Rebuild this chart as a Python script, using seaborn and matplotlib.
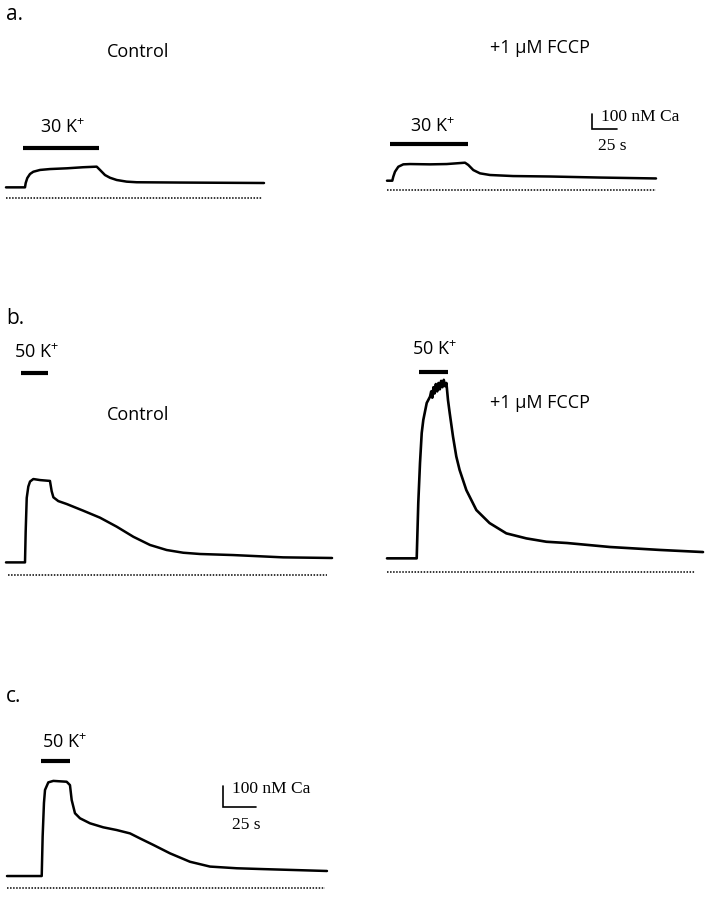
import matplotlib
matplotlib.use("Agg")
import matplotlib.pyplot as plt
import seaborn as sns
import pandas as pd

sns.set_theme(style="white")
plt.rcParams['font.family'] = ['Open Sans', 'DejaVu Sans']
plt.rcParams['mathtext.fontset'] = 'custom'
plt.rcParams['mathtext.rm'] = 'Open Sans'
plt.rcParams['mathtext.it'] = 'Open Sans'
plt.rcParams['mathtext.bf'] = 'Open Sans'
plt.rcParams['mathtext.default'] = 'regular'

# ---------------- data (time in s, [Ca] in nM above zero line) ----------------
a_ctrl_t = [0, 19, 19.7, 21.3, 24, 27.3, 34, 44, 61, 77, 90.7, 94, 99, 104,
            110.7, 120.7, 130.7, 174, 258]
a_ctrl_ca = [71, 71, 100, 133, 160, 175, 187, 193, 198, 205, 209, 187, 153, 135,
             120, 109, 105, 103, 100]
a_ctrl_stim = [17, 93]
a_ctrl_zero = [0, 256]

a_fccp_t = [0, 5.3, 6.3, 8, 11.3, 16.3, 23, 43, 59.7, 78, 81.3, 86.3, 93, 103,
            126, 163, 213, 269]
a_fccp_ca = [62, 62, 89, 122, 155, 171, 173, 171, 173, 182, 167, 133, 111, 100,
             93, 90, 83, 77]
a_fccp_stim = [3, 81]
a_fccp_zero = [0, 269]

b_ctrl_t = [0, 14.4, 14.9, 15.7, 16.9, 18.2, 20.7, 25.8, 33.3, 34.6, 35.9, 39.6,
            46, 58.6, 71.2, 83.9, 96.5, 109.1, 121.7, 134.3, 147, 172, 210, 247]
b_ctrl_ca = [60, 60, 206, 367, 421, 445, 457, 452, 448, 399, 370, 352,
             338, 306, 273, 230, 182, 143, 119, 106, 100, 95, 84, 81]
b_ctrl_stim = [11.4, 31.8]
b_ctrl_zero = [1.5, 243]

b_fccp_t = [0, 22.5, 23.7, 25, 26.3, 27.5, 30.1, 32.6, 33.5, 34.3, 35.2, 36, 37,
            38, 39, 40, 41, 42, 43, 44, 45, 46.2, 47.5, 50, 52.5, 55, 60.1,
            67.7, 77.7, 90.4, 105.6, 120.8, 136.4, 169, 206.8, 239.4]
b_fccp_ca = [65, 65, 329, 519, 662, 724, 805, 835, 860, 830, 880, 850, 895,
             860, 900, 870, 910, 880, 915, 885, 900, 819, 757, 645, 550, 486, 390,
             295, 233, 184, 160, 144, 138, 119, 105, 95]
b_fccp_stim = [24.2, 46.2]
b_fccp_zero = [0, 233]

c_t = [0, 26.3, 27.0, 28.0, 28.8, 31.3, 35.1, 45.2, 47.7, 49, 51.5, 55.3, 62.9,
       72.9, 83.1, 93.2, 100.8, 110.9, 123.5, 138.6, 153.8, 174, 194, 242.4]
c_ca = [57, 57, 245, 405, 467, 503, 510, 506, 490, 419, 356, 332, 308,
        289, 276, 260, 236, 205, 165, 125, 102, 94, 90, 81]
c_stim = [25.8, 47.7]
c_zero = [0, 241]

scale_ca = 100   # nM
scale_t = 25     # s

W, H = 708, 899
fig = plt.figure(figsize=(W / 100, H / 100), dpi=100)


def panel_axes(x0, y0, sx, sy):
    """Full-figure transparent axes: time 0 at pixel x0, Ca 0 at pixel y0."""
    ax = fig.add_axes([0, 0, 1, 1])
    ax.set_xlim((0 - x0) / sx, (W - x0) / sx)
    ax.set_ylim((y0 - H) / sy, y0 / sy)
    ax.axis('off')
    ax.patch.set_alpha(0)
    return ax


def draw_trace(ax, t, ca, stim, zero, bar_level, lw=1.8):
    df = pd.DataFrame({'t': t, 'ca': ca})
    sns.lineplot(data=df, x='t', y='ca', ax=ax, color='black', lw=lw,
                 estimator=None, sort=False)
    ax.hlines(0, zero[0], zero[1], colors='black', lw=1.1,
              linestyles=(0, (1, 1)))
    ax.hlines(bar_level, stim[0], stim[1], colors='black', lw=3.0)


def scale_bar(ax, t0, ca0):
    ax.plot([t0, t0, t0 + scale_t], [ca0 + scale_ca, ca0, ca0],
            color='black', lw=1.2, solid_joinstyle='miter')


def txt(x, y, s, **kw):
    kw.setdefault('ha', 'center')
    kw.setdefault('va', 'center')
    fig.text(x / W, 1 - y / H, s, color='black', **kw)


# panel a
ax = panel_axes(6, 198, 1.0, 0.15)
draw_trace(ax, a_ctrl_t, a_ctrl_ca, a_ctrl_stim, a_ctrl_zero, 333)
ax = panel_axes(387, 190, 1.0, 0.15)
draw_trace(ax, a_fccp_t, a_fccp_ca, a_fccp_stim, a_fccp_zero, 307)
scale_bar(ax, 205, 407)

# panel b
ax = panel_axes(6, 575, 1.32, 0.21)
draw_trace(ax, b_ctrl_t, b_ctrl_ca, b_ctrl_stim, b_ctrl_zero, 962)
ax = panel_axes(387, 572, 1.32, 0.21)
draw_trace(ax, b_fccp_t, b_fccp_ca, b_fccp_stim, b_fccp_zero, 952, lw=1.9)

# panel c
ax = panel_axes(7, 888, 1.32, 0.21)
draw_trace(ax, c_t, c_ca, c_stim, c_zero, 605)
scale_bar(ax, 163.6, 386)

# texts
lab = 15
sz = 13
serif = 12.5
txt(6, 14, 'a.', fontsize=lab, ha='left')
txt(6, 318, 'b.', fontsize=lab, ha='left')
txt(6, 697, 'c.', fontsize=lab, ha='left')

txt(138, 52, 'Control', fontsize=sz)
txt(540, 48, '+1 \u03bcM FCCP', fontsize=sz)
txt(63, 128, '30 K$^{+}$', fontsize=sz)
txt(433, 127, '30 K$^{+}$', fontsize=sz)
txt(601, 117, '100 nM Ca', fontsize=serif, ha='left', family='Liberation Serif')
txt(598, 146, '25 s', fontsize=serif, ha='left', family='Liberation Serif')

txt(37, 353, '50 K$^{+}$', fontsize=sz)
txt(138, 415, 'Control', fontsize=sz)
txt(435, 350, '50 K$^{+}$', fontsize=sz)
txt(540, 403, '+1 \u03bcM FCCP', fontsize=sz)

txt(65, 743, '50 K$^{+}$', fontsize=sz)
txt(232, 789, '100 nM Ca', fontsize=serif, ha='left', family='Liberation Serif')
txt(232, 825, '25 s', fontsize=serif, ha='left', family='Liberation Serif')

fig.savefig('out.png', dpi=100, facecolor='white')
